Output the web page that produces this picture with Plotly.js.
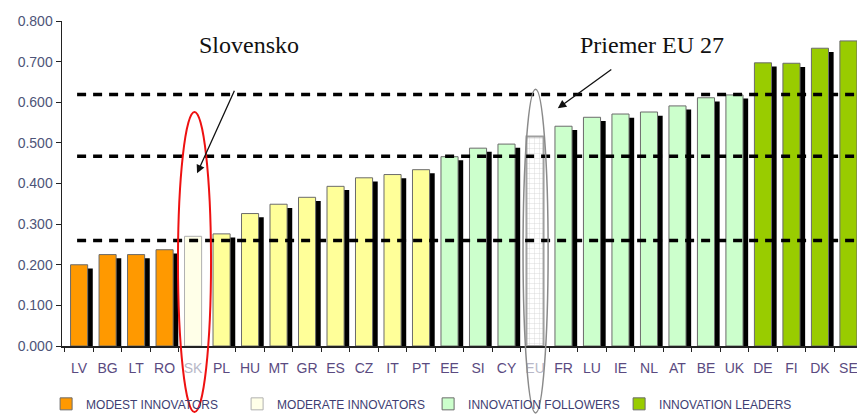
<!DOCTYPE html>
<html>
<head>
<meta charset="utf-8">
<script src="https://cdn.plot.ly/plotly-3.0.1.min.js"></script>
<style>html,body{margin:0;padding:0;background:#fff;overflow:hidden}#chart{width:857px;height:416px}</style>
</head>
<body>
<div id="chart"></div>
<script>
// ---- data ----
const categories = ["LV","BG","LT","RO","SK","PL","HU","MT","GR","ES","CZ","IT","PT","EE","SI","CY","EU","FR","LU","IE","NL","AT","BE","UK","DE","FI","DK","SE"];
const values = [0.200,0.225,0.225,0.237,0.270,0.276,0.326,0.349,0.366,0.393,0.414,0.422,0.434,0.466,0.487,0.497,0.516,0.541,0.563,0.571,0.576,0.591,0.611,0.618,0.697,0.696,0.733,0.751];
const groups = ["MOD","MOD","MOD","MOD","MDR","MDR","MDR","MDR","MDR","MDR","MDR","MDR","MDR","FOL","FOL","FOL","EU","FOL","FOL","FOL","FOL","FOL","FOL","FOL","LEA","LEA","LEA","LEA"];
const groupNames = {MOD:"MODEST INNOVATORS", MDR:"MODERATE INNOVATORS", FOL:"INNOVATION FOLLOWERS", LEA:"INNOVATION LEADERS"};
const groupColors = {MOD:"#FF9900", MDR:"#FFFF99", FOL:"#CCFFCC", LEA:"#99CC00"};
const tickLabels = categories.slice();
const highlighted = ["SK","EU"];
const thresholds = [0.619, 0.467, 0.260];

// ---- traces ----
const traces = [];
// shadow
traces.push({
  type:"bar", x:categories, y:values.map(v=>v-0.009), width:0.6, offset:-0.12,
  marker:{color:categories.map(c=>highlighted.includes(c)?"#ffffff":"#000000"),
          line:{width:0},
          pattern:{shape:categories.map(c=>highlighted.includes(c)?"+":""), fgcolor:"#9a9a9a", size:4, solidity:0.3}},
  showlegend:false, hoverinfo:"skip"
});
["MOD","MDR","FOL","LEA"].forEach(g=>{
  const xs=[], ys=[], fill=[], lc=[];
  categories.forEach((c,i)=>{ if(groups[i]===g){ xs.push(c); ys.push(values[i]);
     fill.push(c==="SK"?"#FFFFE8":groupColors[g]); lc.push(c==="SK"?"#b0b0b0":"#6b6b6b"); }});
  traces.push({type:"bar", name:groupNames[g], x:xs, y:ys, width:0.6,
    marker:{color:fill, line:{color:lc, width:1}}});
});
// EU average
categories.forEach((c,i)=>{ if(groups[i]==="EU"){
  traces.push({type:"bar", x:[c], y:[values[i]], width:0.6, showlegend:false,
    marker:{color:"#ffffff", line:{color:"#a0a0a0", width:2},
      pattern:{shape:"+", fgcolor:"#d0d0d0", size:5, solidity:0.15}}});
}});

const shapes = thresholds.map(t=>({type:"line", xref:"paper", yref:"y", x0:0.019, x1:1, y0:t, y1:t,
  line:{color:"#000", width:3.5, dash:"9px,7px"}}));
shapes.push({type:"circle", xref:"x", yref:"paper", x0:3.47, x1:4.63, y0:-0.203, y1:0.72, line:{color:"#ee1111", width:2}});
shapes.push({type:"circle", xref:"x", yref:"paper", x0:15.58, x1:16.46, y0:-0.206, y1:0.79, line:{color:"#8a8a8a", width:1.5}});

const serif = {family:"Liberation Serif, Times New Roman, serif", size:24, color:"#111"};
const annotations = [
  {xref:"paper", yref:"paper", x:(249-62)/795, y:(346-45)/325, xanchor:"center", yanchor:"middle", text:"Slovensko", showarrow:false, font:serif},
  {xref:"paper", yref:"paper", x:(652-62)/795, y:(346-45)/325, xanchor:"center", yanchor:"middle", text:"Priemer EU 27", showarrow:false, font:serif},
  {xref:"x", yref:"y", x:4.14, y:0.425, text:"", showarrow:true, ax:38, ay:-84, arrowhead:2, arrowsize:1.3, arrowwidth:1.3, arrowcolor:"#111"},
  {xref:"x", yref:"y", x:16.8, y:0.585, text:"", showarrow:true, ax:55, ay:-40, arrowhead:2, arrowsize:1.3, arrowwidth:1.3, arrowcolor:"#111"}
];

const layout = {
  width:857, height:416, margin:{l:62, r:0, t:21, b:70, autoexpand:false},
  paper_bgcolor:"#fff", plot_bgcolor:"#fff",
  barmode:"overlay",
  font:{family:"Liberation Sans, Arial, sans-serif"},
  xaxis:{type:"category", categoryorder:"array", categoryarray:categories, range:[-0.6, 27.3],
    tickvals:categories,
    ticktext:tickLabels.map(c=>highlighted.includes(c)?'<span style="color:#b8b8c8">'+c+'</span>':c),
    tickangle:0, automargin:false,
    showline:true, linecolor:"#222", linewidth:1.5, ticks:"outside", tickson:"boundaries", ticklen:4, tickcolor:"#222",
    tickfont:{size:14, color:"#5a4a80"}, ticklabelstandoff:9, showgrid:false, fixedrange:true},
  yaxis:{range:[0,0.8], dtick:0.1, tickformat:".3f", showline:true, linecolor:"#222", linewidth:1.5, automargin:false,
    ticks:"outside", ticklen:5, tickcolor:"#222", showgrid:false, zeroline:false,
    tickfont:{size:14, color:"#4d5478"}},
  showlegend:true,
  legend:{orientation:"h", x:-0.02, xanchor:"left", y:-0.178, yanchor:"middle",
    font:{size:12, color:"#3e3e72"}, entrywidth:146, itemwidth:30, tracegroupgap:0,
    traceorder:"normal", bgcolor:"rgba(0,0,0,0)"},
  shapes:shapes, annotations:annotations
};
Plotly.newPlot("chart", traces, layout, {displayModeBar:false, staticPlot:true});
</script>
</body>
</html>
